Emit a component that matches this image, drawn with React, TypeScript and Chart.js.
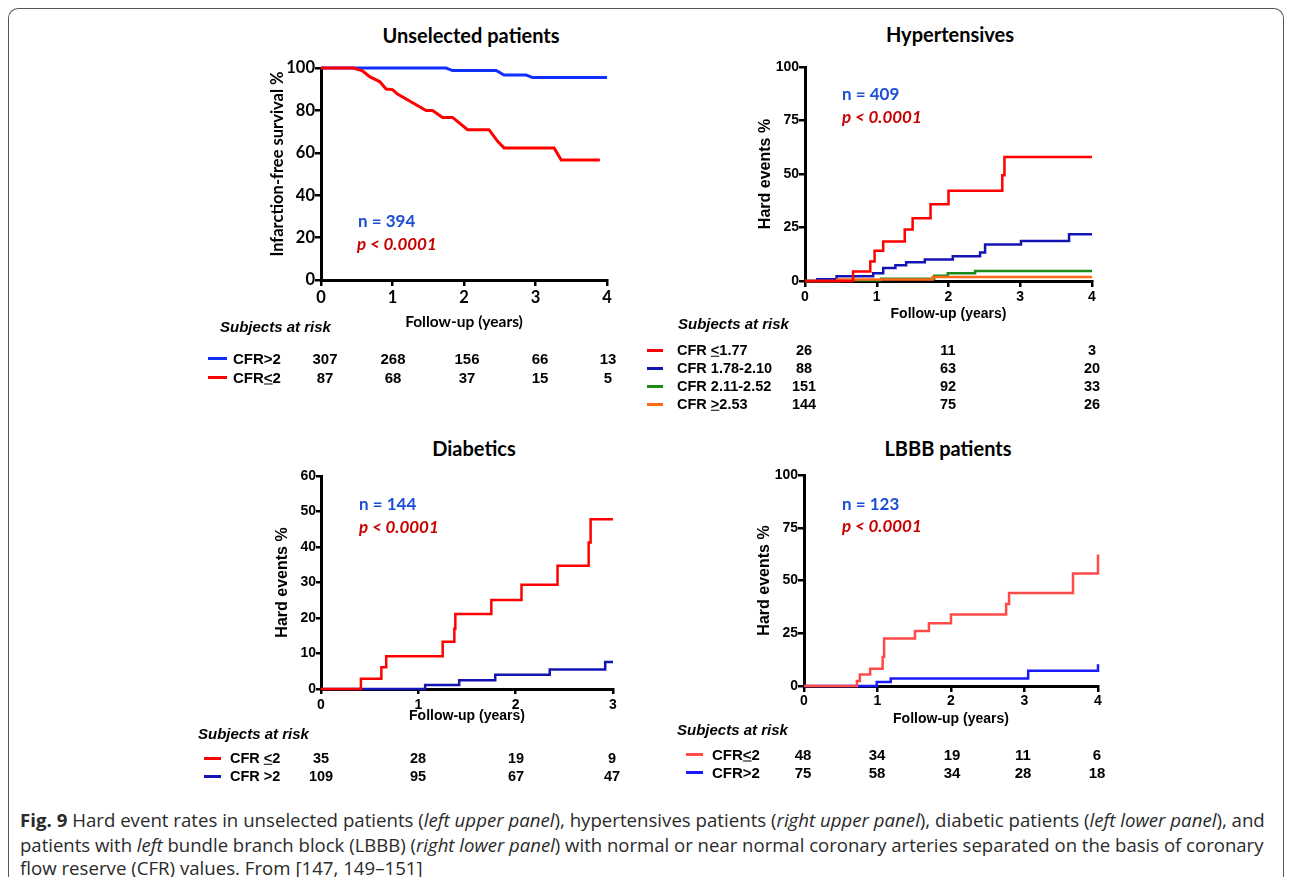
import React, { useEffect, useLayoutEffect, useRef } from "react";
import { Chart, registerables } from "chart.js";
Chart.register(...registerables);

// ---------------- data ----------------
// Panel 1: Unselected patients (infarction-free survival %)
const unselBlueT = [0, 1.75, 1.84, 2.45, 2.56, 2.87, 2.96, 4.0];
const unselBlueV = [100, 100, 98.8, 98.8, 96.7, 96.7, 95.5, 95.5];
const unselRedT = [0, 0.45, 0.58, 0.68, 0.82, 0.91, 1.0, 1.07, 1.47, 1.56, 1.7, 1.84, 2.05, 2.35, 2.47, 2.56, 3.26, 3.36, 3.9];
const unselRedV = [100, 100, 98.7, 95.9, 93.6, 90.1, 89.8, 87.7, 79.9, 79.9, 76.7, 76.7, 70.9, 70.9, 65.4, 62.3, 62.3, 56.6, 56.6];
const unselRiskHigh = [307, 268, 156, 66, 13];
const unselRiskLow = [87, 68, 37, 15, 5];

// Panel 2: Hypertensives (hard events %)
const hypRedT = [0, 0.67, 0.91, 0.97, 1.09, 1.39, 1.5, 1.75, 2.0, 2.75, 2.78, 4];
const hypRedV = [0, 4.4, 9.1, 14.1, 18.5, 24.1, 29.3, 35.9, 42.2, 49.4, 58.0, 58.0];
const hypBlueT = [0, 0.17, 0.44, 0.95, 1.09, 1.26, 1.41, 1.67, 2.06, 2.44, 2.51, 3.01, 3.68, 4];
const hypBlueV = [0, 0.8, 2.2, 3.6, 6.1, 7.4, 8.8, 10.0, 11.6, 13.3, 17.1, 18.7, 21.9, 21.9];
const hypGreenT = [0, 0.5, 1.06, 1.8, 1.99, 2.37, 4];
const hypGreenV = [0, 0.4, 1.1, 2.5, 3.6, 4.7, 4.7];
const hypOrangeT = [0, 0.45, 1.78, 4];
const hypOrangeV = [0, 0.7, 1.9, 1.9];
const hypRiskA = [26, 11, 3];
const hypRiskB = [88, 63, 20];
const hypRiskC = [151, 92, 33];
const hypRiskD = [144, 75, 26];

// Panel 3: Diabetics
const diabRedT = [0, 0.41, 0.62, 0.67, 1.25, 1.37, 1.38, 1.75, 2.06, 2.43, 2.75, 2.77, 3];
const diabRedV = [0, 2.9, 6.1, 9.2, 13.3, 17.0, 21.1, 25.1, 29.4, 34.7, 41.3, 47.8, 47.8];
const diabBlueT = [0, 1.07, 1.42, 1.79, 2.35, 2.92, 3];
const diabBlueV = [0, 1.1, 2.5, 4.0, 5.5, 7.6, 7.6];
const diabRiskLow = [35, 28, 19, 9];
const diabRiskHigh = [109, 95, 67, 47];

// Panel 4: LBBB patients
const lbbbRedT = [0, 0.72, 0.76, 0.9, 1.07, 1.09, 1.51, 1.7, 2.0, 2.75, 2.79, 3.66, 4.0, 4.0];
const lbbbRedV = [0, 2.4, 5.4, 8.2, 13.8, 22.5, 26.1, 29.7, 33.9, 38.9, 44.1, 53.3, 53.3, 62.3];
const lbbbBlueT = [0, 0.99, 1.18, 3.05, 4.0, 4.0];
const lbbbBlueV = [0, 1.9, 3.5, 7.2, 7.4, 10.3];
const lbbbRiskLow = [48, 34, 19, 11, 6];
const lbbbRiskHigh = [75, 58, 34, 28, 18];

// ---------------- styling ----------------
const OX = 9;
const OY = 9;
const CAL = "Lato, 'Open Sans', sans-serif";
const ARI = "'Liberation Sans', Arial, sans-serif";
const RED = "#ff0000";
const BLUE1 = "#1030ff";
const BLUE2 = "#1414b4";
const GREEN = "#1a8a1a";
const ORANGE = "#ff6a1a";
const RED4 = "#ff4a4a";
const BLUE4 = "#1a1aff";
const NCOL = "#1c4fd6";
const PCOL = "#c80000";

type Series = { t: number[]; v: number[]; color: string; width?: number; stepped: boolean };
type PanelProps = {
  left: number; top: number; width: number; height: number;
  yWidth: number; xHeight: number; xMax: number; yMax: number; yStep: number;
  series: Series[];
  tickFamily: string; tickSize: number;
  yTitle: string; titleFamily: string; yTitleSize: number; xTitleSize: number;
  xTickPad: number; yTickPad: number; tickLen: number; axisW: number;
};

function KMChart(p: PanelProps) {
  const ref = useRef<HTMLCanvasElement>(null);
  useEffect(() => {
    const tickFont = { family: p.tickFamily, size: p.tickSize, weight: "bold" as const };
    const chart = new Chart(ref.current!, {
      type: "line",
      data: {
        datasets: p.series.map((s) => ({
          data: s.t.map((t, i) => ({ x: t, y: s.v[i] })),
          borderColor: s.color,
          backgroundColor: s.color,
          borderWidth: s.width ?? 2.5,
          stepped: s.stepped ? ("before" as const) : false,
          pointRadius: 0,
          fill: false,
          tension: 0,
          clip: 4,
        })),
      },
      options: {
        animation: false,
        responsive: false,
        maintainAspectRatio: false,
        layout: { padding: { left: 0, top: 12, right: 12, bottom: 0 } },
        plugins: { legend: { display: false }, tooltip: { enabled: false }, title: { display: false } },
        scales: {
          x: {
            type: "linear",
            min: 0,
            max: p.xMax,
            afterFit: (s: any) => { s.height = p.xHeight; },
            ticks: { stepSize: 1, color: "#000", font: tickFont, padding: p.xTickPad, maxRotation: 0, autoSkip: false },
            grid: { drawOnChartArea: false, drawTicks: true, tickLength: p.tickLen, color: "#000", tickColor: "#000", lineWidth: 2.5, tickWidth: 2.5 },
            border: { display: true, color: "#000", width: p.axisW },
            title: { display: true, text: "Follow-up (years)", color: "#000", font: { family: p.titleFamily, size: p.xTitleSize, weight: "bold" }, padding: 0 },
          },
          y: {
            type: "linear",
            min: 0,
            max: p.yMax,
            afterFit: (s: any) => { s.width = p.yWidth; },
            ticks: { stepSize: p.yStep, color: "#000", font: tickFont, padding: p.yTickPad, autoSkip: false },
            grid: { drawOnChartArea: false, drawTicks: true, tickLength: p.tickLen, color: "#000", tickColor: "#000", lineWidth: 2.5, tickWidth: 2.5 },
            border: { display: true, color: "#000", width: p.axisW },
            title: { display: true, text: p.yTitle, color: "#000", font: { family: p.titleFamily, size: p.yTitleSize, weight: "bold" }, padding: 0 },
          },
        },
      } as any,
    });
    return () => chart.destroy();
  }, []);
  return (
    <canvas
      ref={ref}
      width={p.width}
      height={p.height}
      style={{ position: "absolute", left: p.left - OX, top: p.top - OY, width: p.width, height: p.height }}
    />
  );
}

function Txt({ x, y, a = "c", style, children }: { x: number; y: number; a?: "l" | "c" | "r"; style?: React.CSSProperties; children: React.ReactNode }) {
  const tx = a === "l" ? "0" : a === "r" ? "-100%" : "-50%";
  return (
    <div
      style={{
        position: "absolute",
        left: x - OX,
        top: y - OY,
        transform: `translate(${tx}, -50%)`,
        whiteSpace: "nowrap",
        lineHeight: 1,
        ...style,
      }}
    >
      {children}
    </div>
  );
}

function Marker({ x1, x2, y, color }: { x1: number; x2: number; y: number; color: string }) {
  return <div style={{ position: "absolute", left: x1 - OX, top: y - OY - 1.5, width: x2 - x1, height: 3, background: color }} />;
}

const titleStyle: React.CSSProperties = { fontFamily: CAL, fontWeight: 700, fontSize: 20, color: "#000" };
const nStyle: React.CSSProperties = { fontFamily: CAL, fontWeight: 700, fontSize: 17, color: NCOL };
const pStyle: React.CSSProperties = { fontFamily: CAL, fontWeight: 700, fontStyle: "italic", fontSize: 17, color: PCOL };
const headStyle: React.CSSProperties = { fontFamily: ARI, fontWeight: 700, fontStyle: "italic", fontSize: 15, color: "#000" };
const cellStyle = (size: number): React.CSSProperties => ({ fontFamily: ARI, fontWeight: 700, fontSize: size, color: "#000" });

type Row = { label: React.ReactNode; color: string; values: number[] };
function RiskTable({ headX, headY, mx1, mx2, labelX, rowYs, colXs, rows, size }: {
  headX: number; headY: number; mx1: number; mx2: number; labelX: number; rowYs: number[]; colXs: number[]; rows: Row[]; size: number;
}) {
  return (
    <>
      <Txt x={headX} y={headY} a="l" style={headStyle}>Subjects at risk</Txt>
      {rows.map((r, i) => (
        <React.Fragment key={i}>
          <Marker x1={mx1} x2={mx2} y={rowYs[i]} color={r.color} />
          <Txt x={labelX} y={rowYs[i]} a="l" style={cellStyle(size)}>{r.label}</Txt>
          {r.values.map((v, j) => (
            <Txt key={j} x={colXs[j]} y={rowYs[i]} style={cellStyle(size)}>{v}</Txt>
          ))}
        </React.Fragment>
      ))}
    </>
  );
}

function Caption() {
  const r1 = useRef<HTMLDivElement>(null);
  const r2 = useRef<HTMLDivElement>(null);
  const r3 = useRef<HTMLDivElement>(null);
  useLayoutEffect(() => {
    const w1 = r1.current!.offsetWidth;
    const s1 = 1245 / w1;
    r1.current!.style.transform = `scaleX(${s1})`;
    const w2 = r2.current!.offsetWidth;
    r2.current!.style.transform = `scaleX(${1243 / w2})`;
    r3.current!.style.transform = `scaleX(${s1})`;
  }, []);
  const base: React.CSSProperties = {
    position: "absolute",
    left: 20 - OX,
    whiteSpace: "nowrap",
    fontFamily: "'Open Sans', sans-serif",
    fontSize: 18.5,
    lineHeight: "24px",
    color: "#2a2a2a",
    transformOrigin: "0 50%",
  };
  return (
    <>
      <div ref={r1} style={{ ...base, top: 808 - OY }}>
        <b>Fig. 9</b> Hard event rates in unselected patients (<i>left upper panel</i>), hypertensives patients (<i>right upper panel</i>), diabetic patients (<i>left lower panel</i>), and
      </div>
      <div ref={r2} style={{ ...base, top: 833 - OY }}>
        patients with <i>left</i> bundle branch block (LBBB) (<i>right lower panel</i>) with normal or near normal coronary arteries separated on the basis of coronary
      </div>
      <div ref={r3} style={{ ...base, top: 856 - OY }}>
        flow reserve (CFR) values. From [147, 149–151]
      </div>
    </>
  );
}

export default function App() {
  return (
    <div
      style={{
        position: "relative",
        width: 1276,
        height: 869,
        boxSizing: "border-box",
        border: "1px solid #555",
        borderBottom: "none",
        borderTopLeftRadius: 10,
        borderTopRightRadius: 10,
        background: "#fff",
        overflow: "hidden",
      }}
    >
      <style>{"html,body{overflow:hidden;background:#fff}"}</style>

      {/* Panel 1 */}
      <KMChart
        left={268} top={56} width={351} height={275} yWidth={53} xHeight={51}
        xMax={4} yMax={100} yStep={20}
        series={[
          { t: unselRedT, v: unselRedV, color: RED, width: 3, stepped: false },
          { t: unselBlueT, v: unselBlueV, color: BLUE1, width: 3, stepped: false },
        ]}
        tickFamily={CAL} tickSize={16.5} yTitle={"     Infarction-free survival %"} titleFamily={CAL}
        yTitleSize={16.5} xTitleSize={15.5} xTickPad={2} yTickPad={0} tickLen={6} axisW={3}
      />
      <Txt x={471} y={35} style={titleStyle}>Unselected patients</Txt>
      <Txt x={358} y={220} a="l" style={nStyle}>n = 394</Txt>
      <Txt x={357} y={243} a="l" style={pStyle}>p &lt; 0.0001</Txt>
      <RiskTable
        headX={220} headY={326} mx1={208} mx2={227} labelX={233} rowYs={[358, 377]}
        colXs={[325, 393, 467, 540, 608]} size={15}
        rows={[
          { label: "CFR>2", color: BLUE1, values: unselRiskHigh },
          { label: <>CFR<u>&lt;</u>2</>, color: RED, values: unselRiskLow },
        ]}
      />

      {/* Panel 2 */}
      <KMChart
        left={756} top={55} width={348} height={268} yWidth={49} xHeight={42}
        xMax={4} yMax={100} yStep={25}
        series={[
          { t: hypRedT, v: hypRedV, color: RED, stepped: true },
          { t: hypOrangeT, v: hypOrangeV, color: ORANGE, stepped: true },
          { t: hypBlueT, v: hypBlueV, color: BLUE2, stepped: true },
          { t: hypGreenT, v: hypGreenV, color: GREEN, stepped: true },
        ]}
        tickFamily={ARI} tickSize={14} yTitle="Hard events %" titleFamily={ARI}
        yTitleSize={16} xTitleSize={14} xTickPad={2} yTickPad={0} tickLen={6} axisW={3}
      />
      <Txt x={950} y={34} style={titleStyle}>Hypertensives</Txt>
      <Txt x={842} y={93} a="l" style={nStyle}>n = 409</Txt>
      <Txt x={842} y={116} a="l" style={pStyle}>p &lt; 0.0001</Txt>
      <RiskTable
        headX={678} headY={323} mx1={647} mx2={663} labelX={677} rowYs={[350, 368, 386, 404]}
        colXs={[804, 948, 1092]} size={14.5}
        rows={[
          { label: <>CFR <u>&lt;</u>1.77</>, color: RED, values: hypRiskA },
          { label: "CFR 1.78-2.10", color: BLUE2, values: hypRiskB },
          { label: "CFR 2.11-2.52", color: GREEN, values: hypRiskC },
          { label: <>CFR <u>&gt;</u>2.53</>, color: ORANGE, values: hypRiskD },
        ]}
      />

      {/* Panel 3 */}
      <KMChart
        left={273} top={464} width={352} height={261} yWidth={48} xHeight={36}
        xMax={3} yMax={60} yStep={10}
        series={[
          { t: diabRedT, v: diabRedV, color: RED, stepped: true },
          { t: diabBlueT, v: diabBlueV, color: BLUE2, stepped: true },
        ]}
        tickFamily={ARI} tickSize={14} yTitle="Hard events %" titleFamily={ARI}
        yTitleSize={16} xTitleSize={14} xTickPad={3} yTickPad={0} tickLen={5} axisW={3}
      />
      <Txt x={474} y={448} style={titleStyle}>Diabetics</Txt>
      <Txt x={359} y={503} a="l" style={nStyle}>n = 144</Txt>
      <Txt x={359} y={526} a="l" style={pStyle}>p &lt; 0.0001</Txt>
      <RiskTable
        headX={198} headY={733} mx1={204} mx2={221} labelX={230} rowYs={[758, 776]}
        colXs={[321, 418, 516, 612]} size={14.5}
        rows={[
          { label: <>CFR <u>&lt;</u>2</>, color: RED, values: diabRiskLow },
          { label: "CFR >2", color: BLUE2, values: diabRiskHigh },
        ]}
      />

      {/* Panel 4 */}
      <KMChart
        left={755} top={463} width={355} height={265} yWidth={49} xHeight={42}
        xMax={4} yMax={100} yStep={25}
        series={[
          { t: lbbbRedT, v: lbbbRedV, color: RED4, stepped: true },
          { t: lbbbBlueT, v: lbbbBlueV, color: BLUE4, stepped: true },
        ]}
        tickFamily={ARI} tickSize={14} yTitle="Hard events %" titleFamily={ARI}
        yTitleSize={16} xTitleSize={14} xTickPad={1} yTickPad={0} tickLen={6} axisW={3}
      />
      <Txt x={948} y={448} style={titleStyle}>LBBB patients</Txt>
      <Txt x={842} y={503} a="l" style={nStyle}>n = 123</Txt>
      <Txt x={842} y={525} a="l" style={pStyle}>p &lt; 0.0001</Txt>
      <RiskTable
        headX={677} headY={729} mx1={686} mx2={703} labelX={712} rowYs={[754, 772]}
        colXs={[803, 877, 952, 1023, 1097]} size={15}
        rows={[
          { label: <>CFR<u>&lt;</u>2</>, color: RED4, values: lbbbRiskLow },
          { label: "CFR>2", color: BLUE4, values: lbbbRiskHigh },
        ]}
      />

      <Caption />
    </div>
  );
}
